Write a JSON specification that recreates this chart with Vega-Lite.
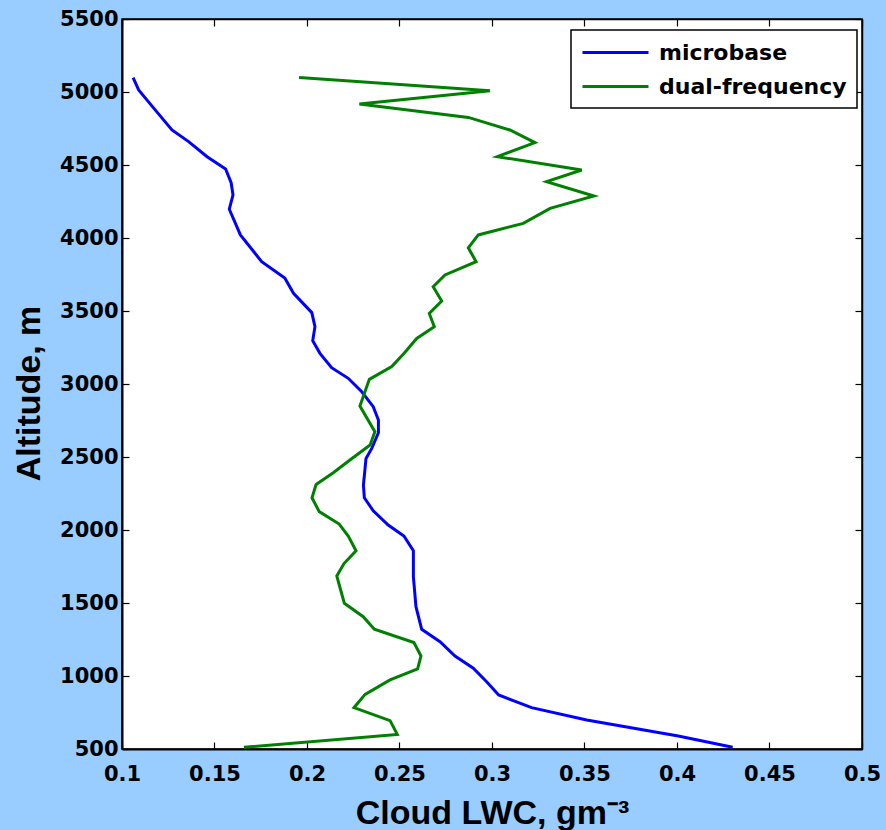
{
  "$schema": "https://vega.github.io/schema/vega-lite/v6.json",
  "width": 740,
  "height": 730,
  "autosize": {"type": "none"},
  "padding": {"left": 122, "top": 19, "right": 24, "bottom": 81},
  "background": "#99ccff",
  "config": {
    "view": {"fill": "white", "stroke": "black", "strokeWidth": 1.5},
    "axis": {
      "grid": false,
      "labelFont": "DejaVu Sans",
      "labelFontWeight": "bold",
      "labelFontSize": 21,
      "labelColor": "black",
      "titleFont": "Liberation Sans",
      "titleFontWeight": "bold",
      "titleFontSize": 34,
      "titleColor": "black",
      "tickColor": "black",
      "tickWidth": 1.2,
      "tickSize": -7,
      "domainColor": "black",
      "labelFlush": false,
      "labelOverlap": false
    },
    "legend": {
      "orient": "none",
      "legendX": 449,
      "legendY": 11,
      "fillColor": "white",
      "strokeColor": "black",
      "strokeWidth": 1.5,
      "padding": 10,
      "labelFont": "DejaVu Sans",
      "labelFontWeight": "bold",
      "labelFontSize": 22,
      "labelColor": "black",
      "labelLimit": 400,
      "symbolType": "M-1,0H5",
      "symbolSize": 484,
      "symbolStrokeWidth": 3,
      "labelOffset": 53,
      "rowPadding": 10,
      "title": null
    }
  },
  "data": {
    "values": [
      {"series": "microbase", "alt": 5098, "lwc": 0.106},
      {"series": "microbase", "alt": 5014, "lwc": 0.109},
      {"series": "microbase", "alt": 4922, "lwc": 0.115},
      {"series": "microbase", "alt": 4740, "lwc": 0.127},
      {"series": "microbase", "alt": 4660, "lwc": 0.136},
      {"series": "microbase", "alt": 4557, "lwc": 0.146},
      {"series": "microbase", "alt": 4473, "lwc": 0.156},
      {"series": "microbase", "alt": 4379, "lwc": 0.159},
      {"series": "microbase", "alt": 4295, "lwc": 0.16},
      {"series": "microbase", "alt": 4197, "lwc": 0.158},
      {"series": "microbase", "alt": 4021, "lwc": 0.164},
      {"series": "microbase", "alt": 3838, "lwc": 0.1755},
      {"series": "microbase", "alt": 3726, "lwc": 0.188},
      {"series": "microbase", "alt": 3621, "lwc": 0.1927},
      {"series": "microbase", "alt": 3489, "lwc": 0.2026},
      {"series": "microbase", "alt": 3393, "lwc": 0.2043},
      {"series": "microbase", "alt": 3297, "lwc": 0.2031},
      {"series": "microbase", "alt": 3210, "lwc": 0.207},
      {"series": "microbase", "alt": 3112, "lwc": 0.2133},
      {"series": "microbase", "alt": 3039, "lwc": 0.2223},
      {"series": "microbase", "alt": 2947, "lwc": 0.2296},
      {"series": "microbase", "alt": 2845, "lwc": 0.2358},
      {"series": "microbase", "alt": 2753, "lwc": 0.2386},
      {"series": "microbase", "alt": 2666, "lwc": 0.2386},
      {"series": "microbase", "alt": 2559, "lwc": 0.235},
      {"series": "microbase", "alt": 2490, "lwc": 0.2319},
      {"series": "microbase", "alt": 2308, "lwc": 0.2305},
      {"series": "microbase", "alt": 2221, "lwc": 0.231},
      {"series": "microbase", "alt": 2132, "lwc": 0.2358},
      {"series": "microbase", "alt": 2034, "lwc": 0.2439},
      {"series": "microbase", "alt": 1959, "lwc": 0.2524},
      {"series": "microbase", "alt": 1858, "lwc": 0.2575},
      {"series": "microbase", "alt": 1680, "lwc": 0.2575},
      {"series": "microbase", "alt": 1475, "lwc": 0.2589},
      {"series": "microbase", "alt": 1320, "lwc": 0.262},
      {"series": "microbase", "alt": 1235, "lwc": 0.2719},
      {"series": "microbase", "alt": 1137, "lwc": 0.28},
      {"series": "microbase", "alt": 1053, "lwc": 0.2899},
      {"series": "microbase", "alt": 961, "lwc": 0.2971},
      {"series": "microbase", "alt": 870, "lwc": 0.3036},
      {"series": "microbase", "alt": 783, "lwc": 0.3214},
      {"series": "microbase", "alt": 699, "lwc": 0.3512},
      {"series": "microbase", "alt": 589, "lwc": 0.4007},
      {"series": "microbase", "alt": 512, "lwc": 0.4301},
      {"series": "dual-frequency", "alt": 5100, "lwc": 0.1957},
      {"series": "dual-frequency", "alt": 5009, "lwc": 0.2989},
      {"series": "dual-frequency", "alt": 4918, "lwc": 0.2283},
      {"series": "dual-frequency", "alt": 4826, "lwc": 0.2872},
      {"series": "dual-frequency", "alt": 4740, "lwc": 0.3097},
      {"series": "dual-frequency", "alt": 4653, "lwc": 0.3232},
      {"series": "dual-frequency", "alt": 4557, "lwc": 0.3029},
      {"series": "dual-frequency", "alt": 4466, "lwc": 0.3485},
      {"series": "dual-frequency", "alt": 4386, "lwc": 0.3295},
      {"series": "dual-frequency", "alt": 4288, "lwc": 0.3551},
      {"series": "dual-frequency", "alt": 4203, "lwc": 0.3314},
      {"series": "dual-frequency", "alt": 4100, "lwc": 0.3169},
      {"series": "dual-frequency", "alt": 4021, "lwc": 0.2926},
      {"series": "dual-frequency", "alt": 3933, "lwc": 0.2872},
      {"series": "dual-frequency", "alt": 3838, "lwc": 0.2914},
      {"series": "dual-frequency", "alt": 3747, "lwc": 0.2746},
      {"series": "dual-frequency", "alt": 3666, "lwc": 0.2682},
      {"series": "dual-frequency", "alt": 3568, "lwc": 0.2728},
      {"series": "dual-frequency", "alt": 3483, "lwc": 0.2661},
      {"series": "dual-frequency", "alt": 3393, "lwc": 0.2688},
      {"series": "dual-frequency", "alt": 3312, "lwc": 0.2593},
      {"series": "dual-frequency", "alt": 3210, "lwc": 0.2525},
      {"series": "dual-frequency", "alt": 3119, "lwc": 0.2458},
      {"series": "dual-frequency", "alt": 3032, "lwc": 0.2337},
      {"series": "dual-frequency", "alt": 2849, "lwc": 0.2286},
      {"series": "dual-frequency", "alt": 2673, "lwc": 0.2367},
      {"series": "dual-frequency", "alt": 2582, "lwc": 0.2341},
      {"series": "dual-frequency", "alt": 2479, "lwc": 0.2232},
      {"series": "dual-frequency", "alt": 2392, "lwc": 0.2142},
      {"series": "dual-frequency", "alt": 2312, "lwc": 0.2049},
      {"series": "dual-frequency", "alt": 2221, "lwc": 0.2027},
      {"series": "dual-frequency", "alt": 2126, "lwc": 0.2066},
      {"series": "dual-frequency", "alt": 2041, "lwc": 0.2174},
      {"series": "dual-frequency", "alt": 1959, "lwc": 0.2223},
      {"series": "dual-frequency", "alt": 1858, "lwc": 0.2265},
      {"series": "dual-frequency", "alt": 1770, "lwc": 0.22},
      {"series": "dual-frequency", "alt": 1685, "lwc": 0.2161},
      {"series": "dual-frequency", "alt": 1589, "lwc": 0.2182},
      {"series": "dual-frequency", "alt": 1498, "lwc": 0.2202},
      {"series": "dual-frequency", "alt": 1406, "lwc": 0.2304},
      {"series": "dual-frequency", "alt": 1320, "lwc": 0.2364},
      {"series": "dual-frequency", "alt": 1229, "lwc": 0.2578},
      {"series": "dual-frequency", "alt": 1137, "lwc": 0.2616},
      {"series": "dual-frequency", "alt": 1048, "lwc": 0.2598},
      {"series": "dual-frequency", "alt": 973, "lwc": 0.2449},
      {"series": "dual-frequency", "alt": 874, "lwc": 0.2314},
      {"series": "dual-frequency", "alt": 783, "lwc": 0.2254},
      {"series": "dual-frequency", "alt": 694, "lwc": 0.2449},
      {"series": "dual-frequency", "alt": 600, "lwc": 0.2488},
      {"series": "dual-frequency", "alt": 512, "lwc": 0.1659}
    ]
  },
  "layer": [
    {
      "mark": {"type": "line", "strokeWidth": 3, "clip": true},
      "encoding": {
        "x": {
          "field": "lwc",
          "type": "quantitative",
          "scale": {"domain": [0.1, 0.5], "nice": false, "zero": false},
          "axis": {
            "orient": "bottom",
            "values": [0.1, 0.15, 0.2, 0.25, 0.3, 0.35, 0.4, 0.45, 0.5],
            "format": ".2~f",
            "labelPadding": 21,
            "domainWidth": 2,
            "title": "Cloud LWC, gm⁻³",
            "titlePadding": 12
          }
        },
        "y": {
          "field": "alt",
          "type": "quantitative",
          "scale": {"domain": [500, 5500], "nice": false, "zero": false},
          "axis": {
            "orient": "left",
            "values": [500, 1000, 1500, 2000, 2500, 3000, 3500, 4000, 4500, 5000, 5500],
            "format": "d",
            "labelPadding": 11,
            "domainWidth": 2,
            "title": "Altitude, m",
            "titlePadding": 13,
            "titleY": 374
          }
        },
        "color": {
          "field": "series",
          "type": "nominal",
          "scale": {"domain": ["microbase", "dual-frequency"], "range": ["#0000ff", "#008000"]},
          "legend": {}
        },
        "order": {"field": "alt", "type": "quantitative"}
      }
    },
    {
      "mark": {"type": "line", "opacity": 0},
      "encoding": {
        "x": {
          "field": "lwc",
          "type": "quantitative",
          "axis": {
            "orient": "top",
            "values": [0.1, 0.15, 0.2, 0.25, 0.3, 0.35, 0.4, 0.45, 0.5],
            "labels": false,
            "title": null,
            "domainWidth": 1.5
          }
        },
        "y": {
          "field": "alt",
          "type": "quantitative",
          "axis": {
            "orient": "right",
            "values": [500, 1000, 1500, 2000, 2500, 3000, 3500, 4000, 4500, 5000, 5500],
            "labels": false,
            "title": null,
            "domainWidth": 1.5
          }
        },
        "detail": {"field": "series", "type": "nominal"},
        "order": {"field": "alt", "type": "quantitative"}
      }
    }
  ],
  "resolve": {"axis": {"x": "independent", "y": "independent"}}
}
